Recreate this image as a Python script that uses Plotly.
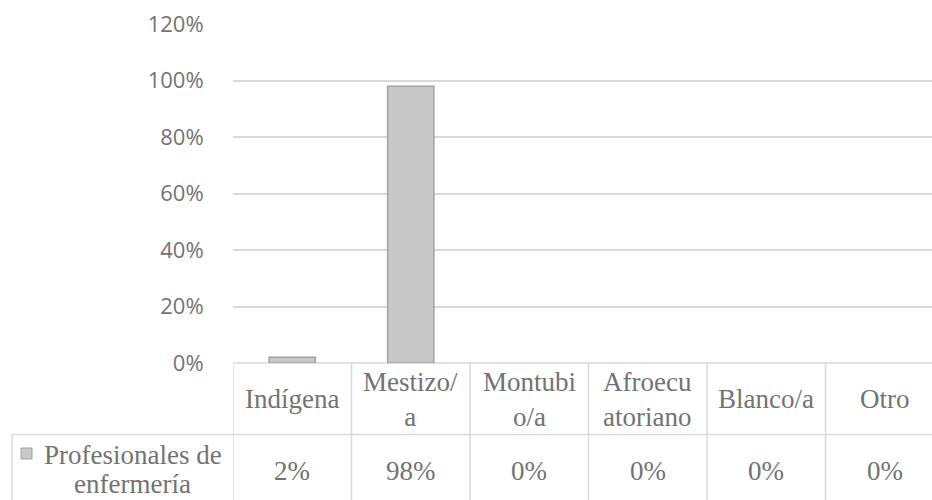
import plotly.graph_objects as go

# ---- data ----
categories = ["Indígena", "Mestizo/a", "Montubio/a", "Afroecuatoriano", "Blanco/a", "Otro"]
header_labels = ["Indígena", "Mestizo/<br>a", "Montubi<br>o/a", "Afroecu<br>atoriano", "Blanco/a", "Otro"]
values = [0.02, 0.98, 0.0, 0.0, 0.0, 0.0]
value_labels = ["2%", "98%", "0%", "0%", "0%", "0%"]
series_label_lines = ["Profesionales de", "enfermería"]
tick_vals = [0, 0.2, 0.4, 0.6, 0.8, 1.0, 1.2]
tick_text = ["0%", "20%", "40%", "60%", "80%", "100%", "120%"]

W, H = 932, 500
PLOT_L = 233
COL_W = 118.5
Y0_PX, Y120_PX = 363, 24
HEADER_BOTTOM = 434.5
TABLE_LEFT = 12

def py(px):
    return (H - px) / H

def pxx(px):
    return px / W

GRID = "#d9d9d9"
TXT = "#737373"
BAR_FILL = "#c8c8c8"
BAR_LINE = "#a3a3a3"
SERIF = "'Liberation Serif', 'Times New Roman', 'DejaVu Serif', serif"

x_idx = list(range(len(categories)))

fig = go.Figure()
fig.add_trace(go.Bar(
    x=x_idx, y=values, width=0.39,
    marker=dict(color=BAR_FILL,
                line=dict(color=BAR_LINE, width=[1.5 if v > 0 else 0 for v in values])),
    name=" ".join(series_label_lines), showlegend=False, hoverinfo="skip",
))

x_max = -0.5 + (W - PLOT_L) / COL_W

fig.update_layout(
    width=W, height=H,
    margin=dict(l=0, r=0, t=0, b=0, pad=0, autoexpand=False),
    paper_bgcolor="white", plot_bgcolor="white",
    xaxis=dict(domain=[PLOT_L / W, 1], range=[-0.5, x_max], showticklabels=False,
               showgrid=False, zeroline=False, showline=False, fixedrange=True,
               automargin=False),
    yaxis=dict(domain=[py(Y0_PX), py(Y120_PX)], range=[0, 1.2],
               tickvals=tick_vals, ticktext=tick_text,
               tickfont=dict(family="Open Sans", size=22, color=TXT),
               ticks="outside", ticklen=24, tickcolor="rgba(0,0,0,0)",
               showgrid=True, gridcolor=GRID, gridwidth=1.5,
               zeroline=False, showline=False, fixedrange=True,
               automargin=False),
    font=dict(family=SERIF, color=TXT),
)

shapes = []
line = dict(color=GRID, width=1.5)
# table top line (0% baseline)
shapes.append(dict(type="line", xref="paper", yref="paper", x0=pxx(PLOT_L), x1=1,
                   y0=py(Y0_PX), y1=py(Y0_PX), line=line, layer="below"))
# header bottom line
shapes.append(dict(type="line", xref="paper", yref="paper", x0=pxx(TABLE_LEFT), x1=1,
                   y0=py(HEADER_BOTTOM), y1=py(HEADER_BOTTOM), line=line))
# left border of data row
shapes.append(dict(type="line", xref="paper", yref="paper", x0=pxx(TABLE_LEFT), x1=pxx(TABLE_LEFT),
                   y0=py(HEADER_BOTTOM), y1=0, line=line))
# column separators
for k in range(len(categories)):
    shapes.append(dict(type="line", xref="x", yref="paper", x0=k - 0.5, x1=k - 0.5,
                       y0=py(Y0_PX), y1=0, line=line))
# legend key
shapes.append(dict(type="rect", xref="paper", yref="paper",
                   x0=pxx(21), x1=pxx(32), y0=py(459), y1=py(448),
                   fillcolor=BAR_FILL, line=dict(color=BAR_LINE, width=1)))
fig.update_layout(shapes=shapes)

ann = []
tfont = dict(family=SERIF, size=27, color=TXT)
for i, lab in enumerate(header_labels):
    ann.append(dict(x=i, y=py(399), xref="x", yref="paper", text=lab, showarrow=False,
                    xanchor="center", yanchor="middle", font=tfont, align="center"))
for i, lab in enumerate(value_labels):
    ann.append(dict(x=i, y=py(471), xref="x", yref="paper", text=lab, showarrow=False,
                    xanchor="center", yanchor="middle", font=tfont))
ann.append(dict(x=pxx(133), y=py(455), xref="paper", yref="paper", text=series_label_lines[0],
                showarrow=False, xanchor="center", yanchor="middle", font=tfont))
ann.append(dict(x=pxx(132), y=py(484), xref="paper", yref="paper", text=series_label_lines[1],
                showarrow=False, xanchor="center", yanchor="middle", font=tfont))
fig.update_layout(annotations=ann)

fig.write_html("out.html", config={"displayModeBar": False})
